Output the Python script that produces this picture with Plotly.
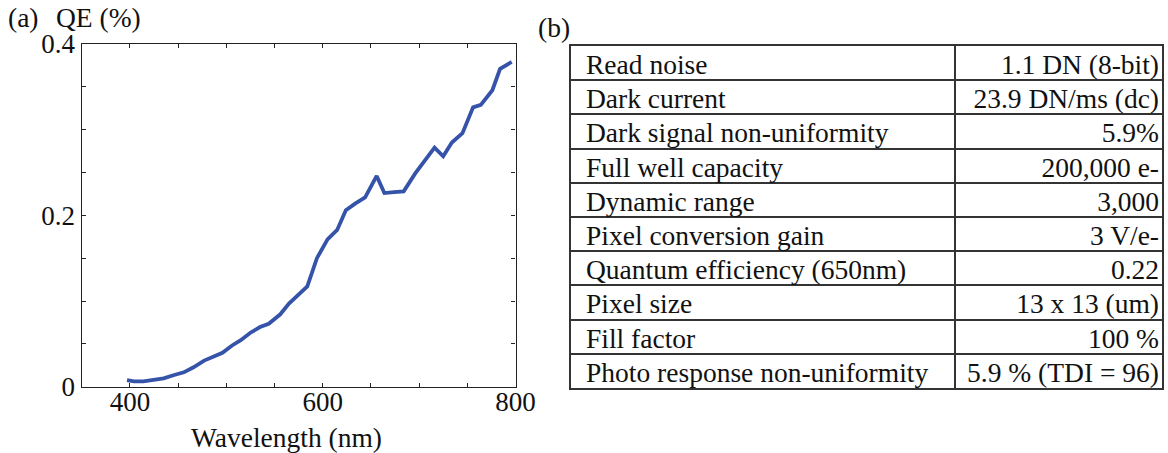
import plotly.graph_objects as go

wavelength_nm = [397, 404, 414, 425, 435, 446, 456, 466, 477, 487, 496, 506, 515, 525,
                 535, 544, 556, 565, 575, 584, 594, 605, 615, 624, 634, 644, 656, 664,
                 674, 684, 696, 707, 716, 725, 734, 745, 756, 764, 776, 784, 796]
qe_values = [0.0078, 0.0063, 0.0063, 0.0078, 0.0098, 0.0137, 0.0168, 0.0227, 0.0305,
             0.0352, 0.0395, 0.0481, 0.0543, 0.0630, 0.0696, 0.0735, 0.0845, 0.097,
             0.107, 0.117, 0.150, 0.172, 0.183, 0.206, 0.214, 0.221, 0.246, 0.226,
             0.227, 0.228, 0.249, 0.265, 0.279, 0.269, 0.285, 0.296, 0.326, 0.329,
             0.346, 0.371, 0.379]
x_tick_values = [400, 600, 800]
x_tick_labels = ["400", "600", "800"]
y_tick_values = [0, 0.2, 0.4]
y_tick_labels = ["0", "0.2", "0.4"]

param_names = ["Read noise", "Dark current", "Dark signal non-uniformity",
               "Full well capacity", "Dynamic range", "Pixel conversion gain",
               "Quantum efficiency (650nm)", "Pixel size", "Fill factor",
               "Photo response non-uniformity"]
param_values = ["1.1 DN (8-bit)", "23.9 DN/ms (dc)", "5.9%", "200,000 e-", "3,000",
                "3 V/e-", "0.22", "13 x 13 (um)", "100 %", "5.9 % (TDI = 96)"]

W, H = 1168, 453
FONT = "Liberation Serif"
AX = "#222222"
TXT = "#111111"

def px_x(p):
    return p / W

def px_y(p):
    return 1 - p / H

fig = go.Figure()
fig.add_trace(go.Scatter(
    x=wavelength_nm, y=qe_values, mode="lines",
    line=dict(color="#3553A8", width=3.8),
    xaxis="x", yaxis="y", showlegend=False, hoverinfo="skip"))

n = len(param_names)
text_rows = [i + 0.12 for i in range(n)]
div = 384 / 591
fig.add_trace(go.Scatter(
    x=[15 / 591] * n, y=text_rows, text=param_names, mode="text",
    textposition="middle right", cliponaxis=False,
    textfont=dict(family=FONT, size=27.5, color=TXT),
    xaxis="x2", yaxis="y2", showlegend=False, hoverinfo="skip"))
fig.add_trace(go.Scatter(
    x=[588 / 591] * n, y=text_rows, text=param_values, mode="text",
    textposition="middle left", cliponaxis=False,
    textfont=dict(family=FONT, size=27.5, color=TXT),
    xaxis="x2", yaxis="y2", showlegend=False, hoverinfo="skip"))

fig.update_layout(
    width=W, height=H,
    margin=dict(l=0, r=0, t=0, b=0, pad=0, autoexpand=False),
    paper_bgcolor="white", plot_bgcolor="white",
    font=dict(family=FONT, size=10, color=TXT),
    hovermode=False,
    xaxis=dict(
        domain=[px_x(81.7), px_x(515.5)], range=[350, 800], automargin=False,
        tickvals=x_tick_values, ticktext=x_tick_labels,
        ticks="inside", ticklen=4, tickwidth=1.2, tickcolor=AX,
        ticklabelstandoff=-9,
        minor=dict(dtick=50, tick0=350, ticks="inside", ticklen=4, tickwidth=1.2, tickcolor=AX),
        showline=True, linecolor=AX, linewidth=1.4, mirror="ticks",
        showgrid=False, zeroline=False,
        tickfont=dict(family=FONT, size=27, color=TXT),
        anchor="y"),
    yaxis=dict(
        domain=[px_y(386.7), px_y(44)], range=[0, 0.4], automargin=False,
        tickvals=y_tick_values, ticktext=y_tick_labels,
        ticks="inside", ticklen=4, tickwidth=1.2, tickcolor=AX,
        minor=dict(dtick=0.05, tick0=0, ticks="inside", ticklen=4, tickwidth=1.2, tickcolor=AX),
        showline=True, linecolor=AX, linewidth=1.4, mirror="ticks",
        showgrid=False, zeroline=False,
        tickfont=dict(family=FONT, size=27, color=TXT),
        anchor="x"),
    xaxis2=dict(
        domain=[px_x(571), px_x(1162)], range=[0, 1], automargin=False,
        tickvals=[div], showticklabels=False, ticks="",
        showgrid=True, gridcolor="#333", gridwidth=1.5,
        showline=True, linecolor="#333", linewidth=1.5, mirror=True,
        zeroline=False, anchor="y2"),
    yaxis2=dict(
        domain=[px_y(388), px_y(46)], range=[n - 0.5, -0.5], automargin=False,
        tickvals=[i + 0.5 for i in range(n - 1)], showticklabels=False, ticks="",
        showgrid=True, gridcolor="#333", gridwidth=1.5,
        showline=True, linecolor="#333", linewidth=1.5, mirror=True,
        zeroline=False, anchor="x2"),
    annotations=[
        dict(text="(a)", x=px_x(6), y=px_y(18), xref="paper", yref="paper",
             xanchor="left", yanchor="middle", showarrow=False,
             font=dict(family=FONT, size=27.5, color=TXT)),
        dict(text="QE (%)", x=px_x(54), y=px_y(18), xref="paper", yref="paper",
             xanchor="left", yanchor="middle", showarrow=False,
             font=dict(family=FONT, size=27.5, color=TXT)),
        dict(text="Wavelength (nm)", x=px_x(286), y=px_y(437), xref="paper", yref="paper",
             xanchor="center", yanchor="middle", showarrow=False,
             font=dict(family=FONT, size=27.5, color=TXT)),
        dict(text="(b)", x=px_x(536), y=px_y(28), xref="paper", yref="paper",
             xanchor="left", yanchor="middle", showarrow=False,
             font=dict(family=FONT, size=27.5, color=TXT)),
    ],
)

fig.write_html("out.html", config={"displayModeBar": False})
